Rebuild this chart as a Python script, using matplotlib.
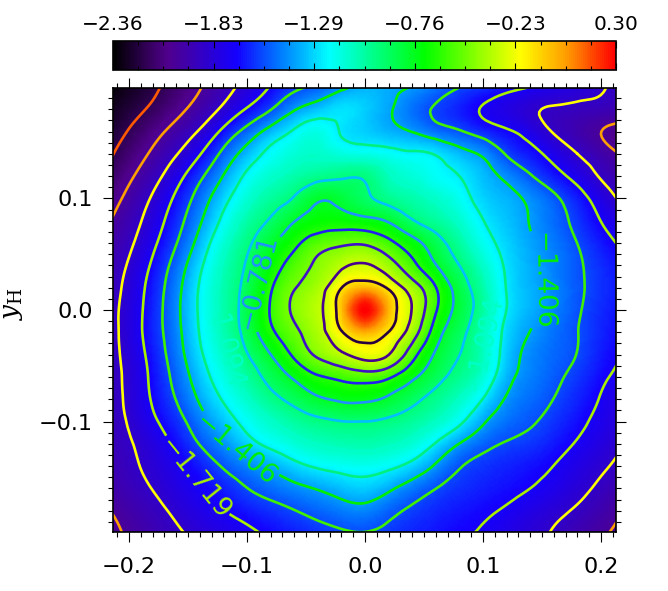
import numpy as np
import matplotlib
matplotlib.use("Agg")
import matplotlib.pyplot as plt
import matplotlib.tri as mtri
from matplotlib.colors import LinearSegmentedColormap

# === values ===
X_NODES = np.linspace(-0.22, 0.22, 23)
Y_NODES = np.linspace(0.20, -0.20, 21)

# log value at each node, top row first
Z_ROWS = [
    [-2.38, -2.30, -2.225, -2.14, -2.05, -1.95, -1.84, -1.73, -1.63, -1.53, -1.445, -1.36, -1.38, -1.41, -1.49, -1.56, -1.61, -1.67, -1.72, -1.77, -1.81, -1.86, -1.93],
    [-2.33, -2.23, -2.175, -2.075, -1.985, -1.86, -1.72, -1.595, -1.40, -1.33, -1.27, -1.31, -1.39, -1.49, -1.58, -1.65, -1.73, -1.79, -1.85, -1.89, -1.91, -1.93, -1.97],
    [-2.28, -2.18, -2.085, -1.98, -1.875, -1.68, -1.50, -1.33, -1.20, -1.17, -1.26, -1.31, -1.36, -1.41, -1.49, -1.55, -1.63, -1.70, -1.78, -1.885, -1.96, -2.03, -2.07],
    [-2.24, -2.12, -2.01, -1.89, -1.74, -1.51, -1.33, -1.19, -1.13, -1.11, -1.15, -1.17, -1.20, -1.23, -1.26, -1.35, -1.43, -1.575, -1.67, -1.77, -1.875, -1.97, -2.05],
    [-2.20, -2.05, -1.94, -1.78, -1.59, -1.40, -1.20, -1.12, -1.06, -0.99, -0.96, -0.96, -1.08, -1.14, -1.20, -1.25, -1.34, -1.44, -1.55, -1.66, -1.77, -1.89, -1.98],
    [-2.13, -1.99, -1.86, -1.69, -1.49, -1.29, -1.13, -1.02, -0.93, -0.80, -0.83, -0.91, -0.99, -1.05, -1.11, -1.19, -1.30, -1.36, -1.435, -1.535, -1.655, -1.79, -1.92],
    [-2.07, -1.945, -1.81, -1.63, -1.43, -1.21, -1.03, -0.93, -0.77, -0.72, -0.72, -0.75, -0.78, -0.96, -1.03, -1.11, -1.26, -1.33, -1.41, -1.50, -1.60, -1.72, -1.84],
    [-2.02, -1.91, -1.755, -1.58, -1.35, -1.12, -0.97, -0.80, -0.66, -0.52, -0.49, -0.48, -0.58, -0.71, -0.86, -1.02, -1.20, -1.30, -1.39, -1.47, -1.56, -1.66, -1.76],
    [-2.00, -1.86, -1.70, -1.50, -1.27, -1.07, -0.93, -0.71, -0.55, -0.44, -0.34, -0.30, -0.40, -0.58, -0.79, -0.94, -1.10, -1.28, -1.37, -1.46, -1.54, -1.62, -1.70],
    [-1.98, -1.83, -1.66, -1.46, -1.22, -1.06, -0.89, -0.62, -0.47, -0.38, -0.16, -0.02, -0.18, -0.39, -0.61, -0.85, -1.03, -1.28, -1.36, -1.45, -1.54, -1.61, -1.68],
    [-1.97, -1.81, -1.65, -1.44, -1.22, -1.05, -0.87, -0.58, -0.44, -0.34, -0.05, 0.30, -0.02, -0.32, -0.61, -0.83, -1.00, -1.27, -1.35, -1.45, -1.55, -1.63, -1.70],
    [-1.97, -1.81, -1.64, -1.46, -1.23, -1.07, -0.88, -0.63, -0.50, -0.37, -0.17, -0.01, -0.16, -0.39, -0.71, -0.90, -1.08, -1.31, -1.415, -1.50, -1.56, -1.64, -1.71],
    [-1.96, -1.83, -1.67, -1.48, -1.26, -1.11, -0.94, -0.80, -0.58, -0.44, -0.34, -0.25, -0.31, -0.56, -0.82, -0.93, -1.06, -1.33, -1.46, -1.51, -1.55, -1.66, -1.74],
    [-1.95, -1.85, -1.69, -1.52, -1.32, -1.16, -1.03, -0.88, -0.77, -0.64, -0.59, -0.55, -0.60, -0.76, -0.88, -0.99, -1.10, -1.375, -1.46, -1.53, -1.605, -1.69, -1.77],
    [-1.95, -1.85, -1.70, -1.56, -1.38, -1.23, -1.11, -0.98, -0.89, -0.79, -0.75, -0.75, -0.81, -0.90, -1.00, -1.09, -1.25, -1.44, -1.50, -1.56, -1.64, -1.72, -1.88],
    [-1.95, -1.87, -1.74, -1.63, -1.47, -1.32, -1.20, -1.11, -1.03, -0.98, -0.95, -0.95, -0.97, -1.02, -1.07, -1.19, -1.40, -1.50, -1.54, -1.61, -1.68, -1.76, -1.85],
    [-1.95, -1.89, -1.82, -1.69, -1.55, -1.44, -1.28, -1.20, -1.13, -1.08, -1.06, -1.04, -1.07, -1.11, -1.26, -1.43, -1.53, -1.58, -1.60, -1.66, -1.73, -1.80, -1.89],
    [-1.98, -1.90, -1.84, -1.77, -1.66, -1.55, -1.47, -1.39, -1.29, -1.22, -1.20, -1.19, -1.21, -1.28, -1.43, -1.58, -1.62, -1.65, -1.68, -1.72, -1.79, -1.85, -1.92],
    [-2.00, -1.93, -1.87, -1.80, -1.73, -1.65, -1.56, -1.50, -1.45, -1.41, -1.34, -1.29, -1.38, -1.49, -1.58, -1.62, -1.65, -1.68, -1.71, -1.76, -1.83, -1.90, -2.00],
    [-2.06, -1.98, -1.92, -1.85, -1.78, -1.72, -1.67, -1.62, -1.57, -1.52, -1.47, -1.44, -1.53, -1.60, -1.64, -1.67, -1.70, -1.73, -1.79, -1.84, -1.89, -1.96, -2.05],
    [-2.08, -2.02, -1.96, -1.90, -1.85, -1.80, -1.76, -1.71, -1.67, -1.63, -1.60, -1.58, -1.61, -1.65, -1.68, -1.71, -1.73, -1.79, -1.84, -1.89, -1.97, -2.02, -2.08],
]

LEVELS = [-2.344, -2.188, -2.031, -1.875, -1.719, -1.563, -1.406, -1.25, -1.094,
          -0.938, -0.781, -0.625, -0.469, -0.313, -0.156]
LEVEL_COLORS = ["#ff1a00", "#ff5a00", "#ffa000", "#ffff00", "#a8f000", "#40f000", "#00f000",
                "#00f080", "#00ffc8", "#00c0ff", "#2090ff", "#2020f0", "#4010c8", "#480090", "#280040"]

CBAR_LABELS = ["\u22122.36", "\u22121.83", "\u22121.29", "\u22120.76", "\u22120.23", "0.30"]
X_TICKS = [-0.2, -0.1, 0.0, 0.1, 0.2]
Y_TICKS = [-0.1, 0.0, 0.1]

# contour level -> where its labels sit on the map
LABEL_SPOTS = {
    -0.781: [(-0.097, 0.027)],
    -1.094: [(-0.123, -0.029), (0.114, -0.031)],
    -1.406: [(0.155, 0.027), (-0.108, -0.123)],
    -1.719: [(-0.144, -0.150)],
}

# === colour table, black-purple-blue-cyan-green-yellow-red ===
cmap = LinearSegmentedColormap.from_list("idl_rainbow", [
    (0.0, "#000000"), (0.107, "#50008c"), (0.245, "#1400ff"), (0.33, "#0078ff"),
    (0.43, "#00ffff"), (0.62, "#00ff00"), (0.81, "#ffff00"), (0.90, "#ffa000"), (1.0, "#ff0000"),
], N=256)

plt.rcParams["font.family"] = "DejaVu Sans"
plt.rcParams["mathtext.fontset"] = "dejavuserif"

fig = plt.figure(figsize=(6.68, 5.91), dpi=100)
ax = fig.add_axes([113 / 668, 59 / 591, 503 / 668, 444 / 591])
cax = fig.add_axes([113 / 668, 521 / 591, 503 / 668, 29 / 591])

xx, yy = np.meshgrid(X_NODES, Y_NODES)
zz = np.array(Z_ROWS)

# take the hand-reading jitter out, but leave the centre and the top right notches alone
padded = np.pad(zz, 1, mode="edge")
kernel = np.array([1, 5, 1]) / 7
smooth = np.apply_along_axis(lambda r: np.convolve(r, kernel, mode="same"), 0, padded)
smooth = np.apply_along_axis(lambda r: np.convolve(r, kernel, mode="same"), 1, smooth)[1:-1, 1:-1]
keep = np.clip((np.hypot(xx, yy) - 0.05) / 0.03, 0, 1)
keep[(xx > -0.05) & (yy > 0.09)] = 0
zz = keep * smooth + (1 - keep) * zz

# smooth surface from matplotlib's own refiner
tri = mtri.Triangulation(xx.ravel(), yy.ravel())
fine_tri, fine_z = mtri.UniformTriRefiner(tri).refine_field(zz.ravel(), subdiv=3)

mesh = ax.tripcolor(fine_tri, fine_z, shading="gouraud", cmap=cmap, vmin=-2.36, vmax=0.30)
lines = ax.tricontour(fine_tri, fine_z, levels=LEVELS, colors=LEVEL_COLORS, linewidths=1.9)

ax.set_xlim(-0.2136, 0.2127)
ax.set_ylim(-0.199, 0.199)


def minus_fmt(v):
    return f"\u2212{abs(v):.3f}"


# clabel snaps to the nearest line of any level, so pin each label to its own level
ax.clabel(lines, fmt=minus_fmt, fontsize=19, inline=True, inline_spacing=2, manual=[])
for level, spots in LABEL_SPOTS.items():
    lines.labelIndiceList = [LEVELS.index(level)]
    for x, y in spots:
        lines.add_label_near(x, y, inline=True, inline_spacing=2)

ax.set_xticks(X_TICKS)
ax.set_xticklabels(["\u22120.2", "\u22120.1", "0.0", "0.1", "0.2"])
ax.set_yticks(Y_TICKS)
ax.set_yticklabels(["\u22120.1", "0.0", "0.1"])
ax.set_xticks(np.arange(-0.21, 0.215, 0.01), minor=True)
ax.set_yticks(np.arange(-0.19, 0.195, 0.01), minor=True)
ax.tick_params(which="major", direction="out", length=7.2, width=0.8, top=True, right=True, labelsize=16)
ax.tick_params(which="minor", direction="out", length=3.6, width=0.8, top=True, right=True)
ax.tick_params(axis="x", which="major", pad=11)
ax.tick_params(axis="y", which="major", pad=7.5)
for spine in ax.spines.values():
    spine.set_linewidth(1.2)

fig.text(25 / 668, 1 - 304 / 591, r"$y_{\mathrm{H}}$", rotation=90, fontsize=19, ha="right", va="center")

# colour bar
cbar = fig.colorbar(mesh, cax=cax, orientation="horizontal")
cbar.set_ticks(np.linspace(-2.36, 0.30, 6), labels=CBAR_LABELS)
cax.set_xticks(np.linspace(-2.36, 0.30, 21), minor=True)
cax.xaxis.set_ticks_position("both")
cax.tick_params(which="major", direction="in", length=5, width=0.8, top=True, bottom=True,
                labeltop=True, labelbottom=False, labelsize=14.5, pad=5)
cax.tick_params(which="minor", direction="in", length=2.8, width=0.8, top=True, bottom=True)
cbar.outline.set_linewidth(1.2)

fig.savefig("out.png", dpi=100)
